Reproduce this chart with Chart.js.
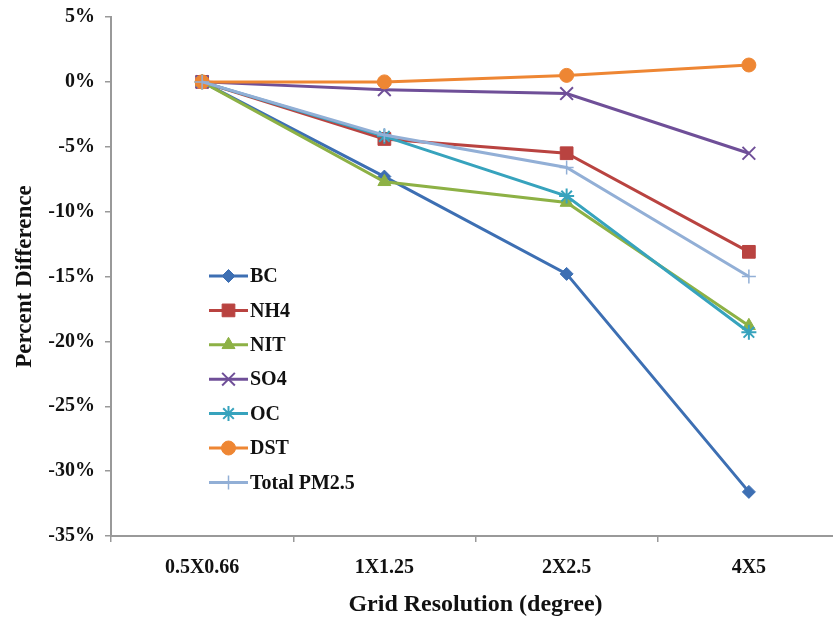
<!DOCTYPE html>
<html><head><meta charset="utf-8">
<script src="https://cdn.jsdelivr.net/npm/chart.js@4.4.0/dist/chart.umd.min.js"></script>
<style>
html,body{margin:0;padding:0;background:#fff;overflow:hidden;width:833px;height:620px;}
#wrap{position:relative;width:851px;height:620px;}
</style></head>
<body><div id="wrap"><canvas id="c" width="851" height="620"></canvas></div>
<script>
const categories = ["0.5X0.66", "1X1.25", "2X2.5", "4X5"];
const BC    = [0, -7.3, -14.8, -31.6];
const NH4   = [0, -4.4, -5.5, -13.1];
const NIT   = [0, -7.7, -9.3, -18.8];
const SO4   = [0, -0.6, -0.9, -5.5];
const OC    = [0, -4.2, -8.8, -19.3];
const DST   = [0, 0.0, 0.5, 1.3];
const TOTAL = [0, -4.1, -6.6, -15.0];
const yTicks = [5, 0, -5, -10, -15, -20, -25, -30, -35];

const FONT = "'Liberation Serif', 'Times New Roman', serif";

function ds(i, label, data, color, style, radius, pbw){
  return {label, data, borderColor: color, backgroundColor: color, pointStyle: style,
    pointRadius: radius, pointHoverRadius: radius, borderWidth: 3, pointBorderWidth: pbw,
    tension: 0, fill: false, order: 10 - i};
}
const datasets = [
  ds(0, "BC", BC, "#3d6fb3", "rectRot", 6.5, 1),
  ds(1, "NH4", NH4, "#b94340", "rect", 9, 1),
  ds(2, "NIT", NIT, "#8db145", "triangle", 7.5, 1),
  ds(3, "SO4", SO4, "#6f4f98", "crossRot", 9, 2),
  ds(4, "OC", OC, "#37a3bd", "star", 7.5, 2),
  ds(5, "DST", DST, "#ee8633", "circle", 7, 1),
  ds(6, "Total PM2.5", TOTAL, "#92afd6", "cross", 7, 1.5)
];

const legendPlugin = {
  id: 'customLegend',
  afterDraw(chart){
    const ctx = chart.ctx;
    const x0 = 209, y0 = 276, step = 34.4;
    ctx.save();
    chart.data.datasets.forEach((d, i) => {
      const y = y0 + i*step;
      ctx.strokeStyle = d.borderColor; ctx.lineWidth = 3;
      ctx.beginPath(); ctx.moveTo(x0, y); ctx.lineTo(x0+39, y); ctx.stroke();
      ctx.fillStyle = d.backgroundColor; ctx.lineWidth = d.pointBorderWidth;
      Chart.helpers.drawPoint(ctx, {pointStyle: d.pointStyle, radius: d.pointRadius, rotation: 0, borderWidth: d.pointBorderWidth}, x0+19.5, y);
      ctx.fillStyle = '#111';
      ctx.font = "bold 20px " + FONT;
      ctx.textBaseline = 'middle'; ctx.textAlign = 'left';
      ctx.fillText(d.label, x0+41, y+1);
    });
    ctx.restore();
  }
};

new Chart(document.getElementById('c'), {
  type: 'line',
  data: { labels: categories, datasets: datasets },
  plugins: [legendPlugin],
  options: {
    responsive: false, animation: false,
    layout: { padding: { top: 17, left: 11, right: 0, bottom: 0 } },
    plugins: { legend: { display: false }, tooltip: { enabled: false } },
    scales: {
      x: {
        offset: true,
        grid: { display: true, offset: true, drawOnChartArea: false, drawTicks: true, tickLength: 6, color: '#999999', lineWidth: 1.5 },
        border: { display: true, color: '#999999', width: 2 },
        ticks: { color: '#111', font: { family: FONT, size: 20, weight: 'bold' }, padding: 14 },
        title: { display: true, text: 'Grid Resolution (degree)', color: '#111', font: { family: FONT, size: 24, weight: 'bold' }, padding: { top: 14, bottom: 1 } },
        afterFit(s){ s.height = 84; }
      },
      y: {
        min: -35, max: 5,
        afterBuildTicks(s){ s.ticks = yTicks.map(v => ({value: v})); },
        grid: { display: true, drawOnChartArea: false, drawTicks: true, tickLength: 6, color: '#999999', lineWidth: 1.5 },
        border: { display: true, color: '#999999', width: 2 },
        ticks: { color: '#111', font: { family: FONT, size: 20, weight: 'bold' }, padding: 10, callback: v => v + '%' },
        title: { display: true, text: 'Percent Difference', color: '#111', font: { family: FONT, size: 23, weight: 'bold' }, padding: { top: 0, bottom: 0 } },
        afterFit(s){ s.width = 100; s.paddingTop = 0; s.paddingBottom = 0; }
      }
    }
  }
});
</script></body></html>
